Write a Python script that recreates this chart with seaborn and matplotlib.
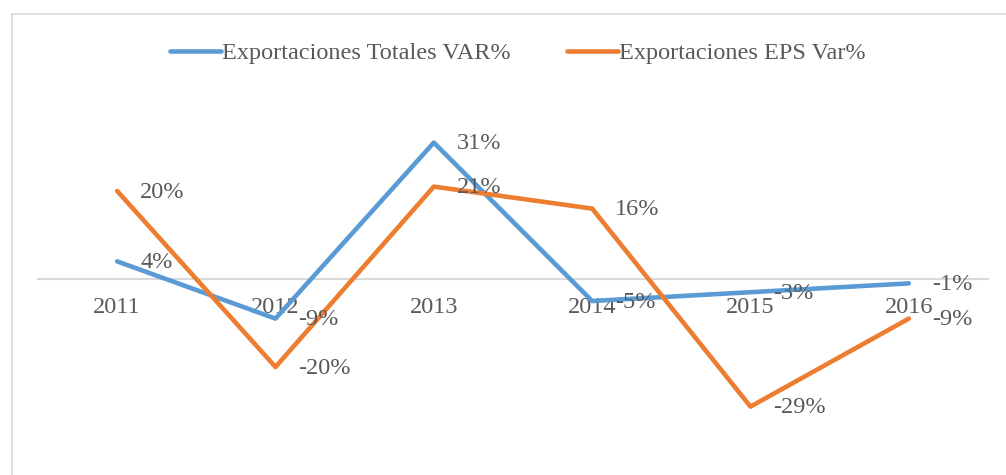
import pandas as pd
import numpy as np
import matplotlib
matplotlib.use("Agg")
import matplotlib.pyplot as plt
import seaborn as sns
from matplotlib.patches import Rectangle

# data (percent)
years = ["2011", "2012", "2013", "2014", "2015", "2016"]
totales = [4, -9, 31, -5, -3, -1]
eps = [20, -20, 21, 16, -29, -9]
series_names = ["Exportaciones Totales VAR%", "Exportaciones EPS Var%"]
colors = ["#5B9BD5", "#ED7D31"]

df = pd.DataFrame({
    "year": years * 2,
    "value": totales + eps,
    "series": [series_names[0]] * len(years) + [series_names[1]] * len(years),
})

sns.set_style("white")
plt.rcParams["font.family"] = ["Liberation Serif", "DejaVu Serif"]
text_color = "#595959"
fs = 17.5

fig = plt.figure(figsize=(10.06, 4.75), dpi=100)
ax = fig.add_axes([38 / 1006, 1 - 433 / 475, 950 / 1006, 308 / 475])

sns.lineplot(data=df, x="year", y="value", hue="series", palette=colors,
             linewidth=3.3, ax=ax, sort=False)

# data labels to the right of each point
for vals in (totales, eps):
    for i, v in enumerate(vals):
        ax.annotate(f"{v}%", (i, v), xytext=(16.5, -1), textcoords="offset points",
                    ha="left", va="center", fontsize=fs, color=text_color)

ax.set_xlim(-0.5, 5.5)
ax.set_ylim(-35, 35)
ax.set_xlabel("")
ax.set_ylabel("")
ax.set_yticks([])
for s in ["top", "right", "left"]:
    ax.spines[s].set_visible(False)
ax.spines["bottom"].set_position(("data", 0))
ax.spines["bottom"].set_color("#D9D9D9")
ax.spines["bottom"].set_linewidth(1.5)
ax.spines["bottom"].set_zorder(0)
ax.tick_params(axis="x", length=0, pad=13, labelsize=fs, labelcolor=text_color)

ax.legend(loc="center", bbox_to_anchor=(518 / 1006, 1 - 53 / 475), bbox_transform=fig.transFigure,
          ncol=2, frameon=False, fontsize=fs, handlelength=2.1, handletextpad=0.05,
          columnspacing=2.3, labelcolor=text_color)

# outer chart border
fig.patches.append(Rectangle((12 / 1006, -0.1), 1.2, 1.1 - 14 / 475, transform=fig.transFigure,
                             fill=False, edgecolor="#D9D9D9", linewidth=1.2))

fig.savefig("out.png", dpi=100)
